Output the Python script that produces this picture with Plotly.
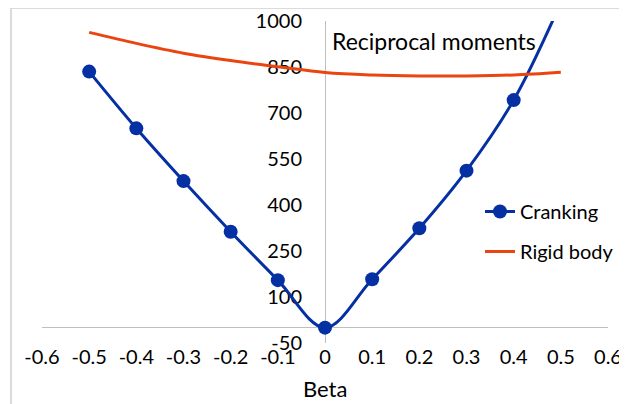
import plotly.graph_objects as go

beta = [-0.5, -0.4, -0.3, -0.2, -0.1, 0.0, 0.1, 0.2, 0.3, 0.4, 0.5]
cranking = [835, 650, 478, 313, 155, 0, 158, 324, 512, 742, 1060]
rigid_body = [963, 927, 895, 871, 851, 832, 824, 821, 821, 824, 833]

x_ticks = [-0.6, -0.5, -0.4, -0.3, -0.2, -0.1, 0, 0.1, 0.2, 0.3, 0.4, 0.5, 0.6]
x_tick_text = ["-0.6", "-0.5", "-0.4", "-0.3", "-0.2", "-0.1", "0", "0.1", "0.2", "0.3", "0.4", "0.5", "0.6"]
y_ticks = [-50, 100, 250, 400, 550, 700, 850, 1000]
y_tick_text = ["-50", "100", "250", "400", "550", "700", "850", "1000"]

BLUE = "#0530A3"
ORANGE = "#EA4510"
FONT = "Lato"
FS = 20

fig = go.Figure()
fig.add_trace(go.Scatter(
    x=beta, y=cranking, name="Cranking", mode="lines+markers",
    line=dict(color=BLUE, width=3, shape="spline", smoothing=1),
    marker=dict(color=BLUE, size=14), legendgroup="a",
))
fig.add_trace(go.Scatter(
    x=beta, y=rigid_body, name="Rigid body", mode="lines",
    line=dict(color=ORANGE, width=3, shape="spline", smoothing=1),
    legendgroup="b",
))

# page body has an 8px default margin; size the figure to fit the window
OFF = 8
W, H = 627 - OFF, 404 - OFF
# plot area in screen pixels: x 42..608, y 21..343
L = 42 - OFF
T = 21 - OFF
R = W - (608 - OFF)
B = H - (343 - OFF)
pw, ph = W - L - R, H - T - B

def px(xs):
    return (xs - OFF - L) / pw

def py(ys):
    return (H - B - (ys - OFF)) / ph

fig.update_layout(
    width=W, height=H,
    margin=dict(l=L, r=R, t=T, b=B, pad=0, autoexpand=False),
    paper_bgcolor="white", plot_bgcolor="white",
    font=dict(family=FONT, size=FS, color="#000000"),
    showlegend=True,
    legend=dict(x=px(472 + OFF), y=py(184 + OFF), xanchor="left", yanchor="top",
                bgcolor="rgba(0,0,0,0)", tracegroupgap=11,
                font=dict(family=FONT, size=FS)),
    xaxis=dict(range=[-0.6, 0.6], tickvals=x_ticks, ticktext=x_tick_text,
               showgrid=False, zeroline=False, showline=False, ticks="",
               automargin=False, tickfont=dict(size=FS)),
    yaxis=dict(range=[-50, 1000], tickvals=y_ticks, ticktext=y_tick_text,
               showgrid=False, zeroline=True, zerolinecolor="#BFBFBF", zerolinewidth=1,
               showline=True, linecolor="#BFBFBF", linewidth=1,
               anchor="free", position=0.5, ticks="outside", ticklen=19,
               tickcolor="rgba(0,0,0,0)", automargin=False,
               layer="below traces", tickfont=dict(size=FS)),
    annotations=[
        dict(text="Reciprocal moments", xref="paper", yref="paper",
             x=px(330), y=py(41), xanchor="left", yanchor="middle",
             showarrow=False, font=dict(family=FONT, size=23)),
        dict(text="Beta", xref="paper", yref="paper",
             x=0.5, y=py(388), xanchor="center", yanchor="middle",
             showarrow=False, font=dict(family=FONT, size=22)),
    ],
    shapes=[dict(type="rect", xref="paper", yref="paper",
                 x0=px(11), x1=px(660), y0=py(440), y1=py(8),
                 line=dict(color="#D0D0D0", width=1.5), layer="below")],
)

fig.write_html("out.html")
